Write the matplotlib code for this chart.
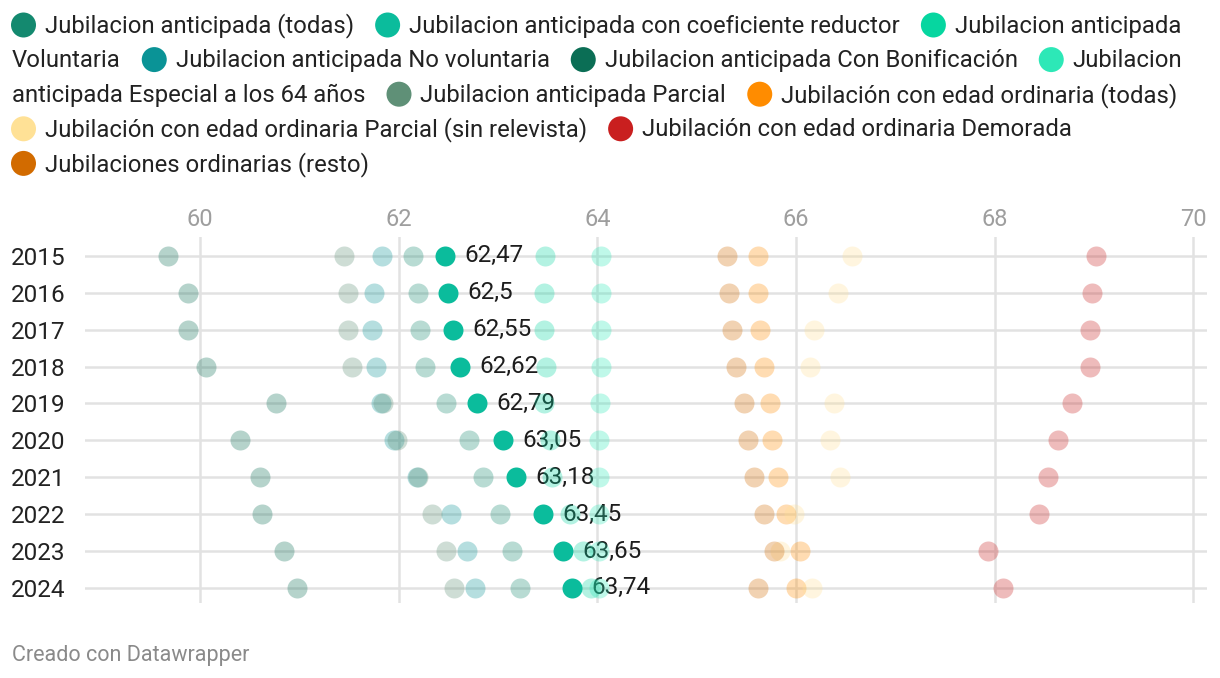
import matplotlib
matplotlib.use("Agg")
import matplotlib.pyplot as plt
from matplotlib.font_manager import FontProperties
from matplotlib.patches import Ellipse
import numpy as np

# ---------------- data ----------------
years = ["2015", "2016", "2017", "2018", "2019", "2020", "2021", "2022", "2023", "2024"]

series_names = [
    "Jubilacion anticipada (todas)",
    "Jubilacion anticipada con coeficiente reductor",
    "Jubilacion anticipada Voluntaria",
    "Jubilacion anticipada No voluntaria",
    "Jubilacion anticipada Con Bonificación",
    "Jubilacion anticipada Especial a los 64 años",
    "Jubilacion anticipada Parcial",
    "Jubilación con edad ordinaria (todas)",
    "Jubilación con edad ordinaria Parcial (sin relevista)",
    "Jubilación con edad ordinaria Demorada",
    "Jubilaciones ordinarias (resto)",
]
series_colors = ["#14896f", "#0bbc9c", "#06d6a0", "#0a9396", "#0b6e55", "#2de8b7",
                 "#5f9077", "#ff8c00", "#ffe196", "#c91f1f", "#d26b00"]

anticipada_todas = [62.14, 62.19, 62.21, 62.26, 62.48, 62.71, 62.85, 63.02, 63.14, 63.22]
coef_reductor = [62.47, 62.50, 62.55, 62.62, 62.79, 63.05, 63.18, 63.45, 63.65, 63.74]
voluntaria = [63.47, 63.46, 63.46, 63.48, 63.46, 63.52, 63.54, 63.72, 63.86, 63.94]
no_voluntaria = [61.83, 61.75, 61.73, 61.77, 61.82, 61.95, 62.18, 62.53, 62.69, 62.77]
con_bonificacion = [59.68, 59.88, 59.88, 60.06, 60.76, 60.40, 60.60, 60.62, 60.84, 60.98]
especial_64 = [64.04, 64.04, 64.04, 64.04, 64.03, 64.02, 64.02, 64.02, 64.02, 64.02]
anticipada_parcial = [61.45, 61.49, 61.49, 61.53, 61.84, 61.98, 62.19, 62.33, 62.48, 62.56]
ordinaria_todas = [65.62, 65.62, 65.64, 65.68, 65.74, 65.76, 65.82, 65.90, 66.04, 66.00]
ordinaria_parcial = [66.56, 66.42, 66.18, 66.14, 66.38, 66.34, 66.44, 65.98, 65.84, 66.16]
ordinaria_demorada = [69.02, 68.98, 68.96, 68.96, 68.78, 68.64, 68.54, 68.45, 67.93, 68.09]
ordinarias_resto = [65.31, 65.33, 65.36, 65.40, 65.48, 65.52, 65.58, 65.68, 65.78, 65.62]

series_values = [anticipada_todas, coef_reductor, voluntaria, no_voluntaria, con_bonificacion,
                 especial_64, anticipada_parcial, ordinaria_todas, ordinaria_parcial,
                 ordinaria_demorada, ordinarias_resto]
highlight = 1  # series with labels
x_ticks = [60, 62, 64, 66, 68, 70]

# ---------------- figure ----------------
W, H, DPI = 1220, 678, 100
fig = plt.figure(figsize=(W / DPI, H / DPI), dpi=DPI)
FONT = ["Roboto", "DejaVu Sans"]
plt.rcParams["font.family"] = FONT

ax = fig.add_axes([85 / W, 1 - 603 / H, (1207 - 85) / W, (603 - 237) / H])
ax.set_xlim(58.84, 70.14)
ax.set_ylim(len(years) - 0.59, -0.51)
for s in ax.spines.values():
    s.set_visible(False)
ax.xaxis.tick_top()
ax.set_xticks(x_ticks)
ax.set_xticklabels([str(t) for t in x_ticks], color="#9e9e9e", fontsize=17)
ax.set_yticks(range(len(years)))
ax.set_yticklabels(years, color="#222222", fontsize=17.5)
ax.tick_params(axis="both", length=0)
ax.tick_params(axis="x", pad=4)
ax.tick_params(axis="y", pad=14)
ax.grid(True, color="#e2e2e2", lw=1.8, zorder=0)
ax.set_axisbelow(True)

ypos = np.arange(len(years))
msize = (20 * 72 / DPI) ** 2
for i, (vals, col) in enumerate(zip(series_values, series_colors)):
    if i == highlight:
        continue
    ax.scatter(vals, ypos, s=msize, color=col, alpha=0.3, linewidths=0, zorder=4)
hv = series_values[highlight]
ax.scatter(hv, ypos, s=msize, color=series_colors[highlight], linewidths=0, zorder=6)
for v, y in zip(hv, ypos):
    lab = f"{v:.2f}".rstrip("0").rstrip(".").replace(".", ",")
    ax.annotate(lab, (v, y), xytext=(14, 0), textcoords="offset points",
                va="center", ha="left", fontsize=17.5, color="#1d1d1d", zorder=3)

# ---------------- legend (flow layout) ----------------
fp = FontProperties(family=FONT, size=17.2)
renderer = fig.canvas.get_renderer()


def tw(s):
    w, h, d = renderer.get_text_width_height_descent(s, fp, ismath=False)
    return w


space_w = tw("a a") - tw("aa")
x_start, x_max = 11, 1205
circle_d, circle_gap, item_gap = 25, 9, 21
row_y0, row_h = 26, 34.6

x, row = x_start, 0
for name, col in zip(series_names, series_colors):
    words = name.split(" ")
    if x > x_start:
        x += item_gap
    first_w = circle_d + circle_gap + tw(words[0])
    if x + first_w > x_max:
        x, row = x_start, row + 1
    cy = row_y0 + row * row_h
    fig.patches.append(Ellipse(((x + circle_d / 2) / W, 1 - (cy - 1) / H), circle_d / W, circle_d / H,
                               transform=fig.transFigure, color=col, lw=0))
    x += circle_d + circle_gap
    segment, seg_x = [], x
    for k, wd in enumerate(words):
        wlen = tw(wd)
        add = wlen if not segment else space_w + wlen
        if segment and x + add > x_max:
            fig.text(seg_x / W, 1 - cy / H, " ".join(segment), fontproperties=fp,
                     color="#222222", va="center", ha="left")
            row += 1
            cy = row_y0 + row * row_h
            x = x_start + 1
            seg_x = x
            segment = [wd]
            x += wlen
        else:
            segment.append(wd)
            x += add
    fig.text(seg_x / W, 1 - cy / H, " ".join(segment), fontproperties=fp,
             color="#222222", va="center", ha="left")

fig.text(12 / W, 1 - 655 / H, "Creado con Datawrapper", fontsize=15.5, color="#8a8a8a",
         va="center", ha="left")

fig.savefig("out.png", dpi=DPI)
